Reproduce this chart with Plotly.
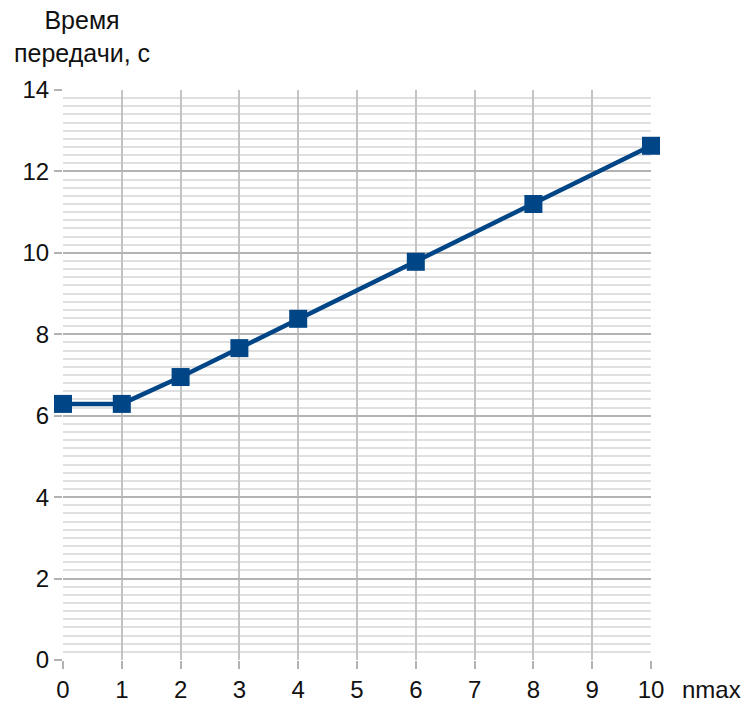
import plotly.graph_objects as go

x_vals = [0, 1, 2, 3, 4, 6, 8, 10]
y_vals = [6.29, 6.29, 6.95, 7.66, 8.38, 9.78, 11.2, 12.63]
x_ticks = list(range(0, 11))
y_ticks = list(range(0, 15, 2))

fig = go.Figure()
fig.add_trace(go.Scatter(
    x=x_vals, y=y_vals, mode="lines+markers",
    line=dict(color="#004586", width=4.5),
    marker=dict(symbol="square", size=18, color="#004586"),
    showlegend=False, cliponaxis=False,
))

fig.update_layout(
    width=742, height=696,
    margin=dict(l=55, r=99, t=82, b=44),
    paper_bgcolor="white", plot_bgcolor="white",
    font=dict(family="Liberation Sans", size=24, color="#111111"),
    xaxis=dict(
        range=[0, 10], tickvals=x_ticks, showgrid=True, gridcolor="#c4c4c4", gridwidth=2,
        zeroline=False, showline=False, ticks="outside", ticklen=8, tickcolor="#b3b3b3", tickwidth=2,
        tickfont=dict(size=24), automargin=False, fixedrange=True,
    ),
    yaxis=dict(
        range=[0, 14], tickvals=y_ticks, showgrid=True, gridcolor="#b3b3b3", gridwidth=2,
        zeroline=False, showline=False, ticks="outside", ticklen=8, tickcolor="#b3b3b3", tickwidth=2,
        minor=dict(dtick=0.2, showgrid=True, gridcolor="#e0e0e0", gridwidth=2),
        tickfont=dict(size=24), automargin=False, fixedrange=True,
    ),
    annotations=[
        dict(text="Время<br>передачи, с", xref="paper", yref="paper", x=0.033, y=1.093,
             xanchor="center", yanchor="middle", showarrow=False, align="center",
             font=dict(size=25)),
        dict(text="nmax", xref="paper", yref="paper", x=1.049, y=-0.0526,
             xanchor="left", yanchor="middle", showarrow=False, font=dict(size=24)),
    ],
)

fig.write_html("out.html")
